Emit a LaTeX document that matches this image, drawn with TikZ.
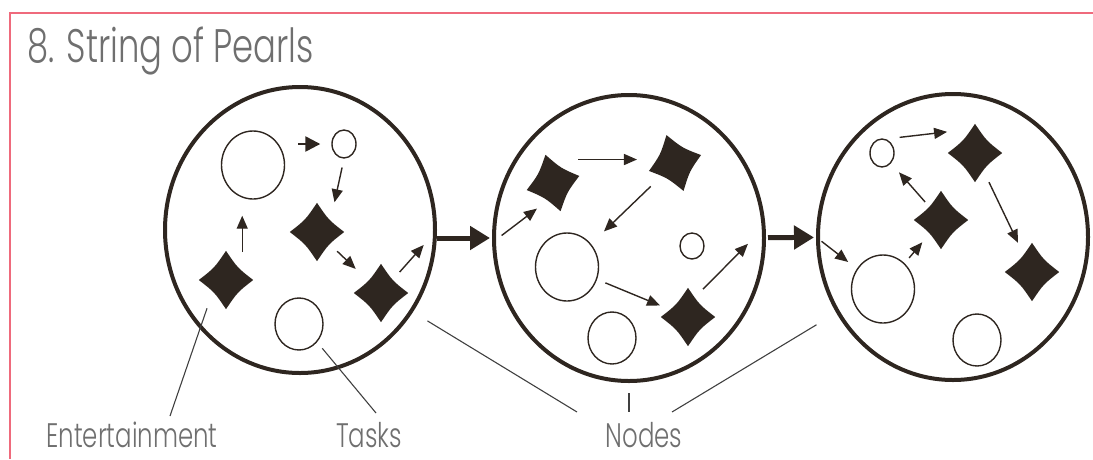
\documentclass[tikz,border=0pt]{standalone}
\usepackage{fontspec}
\IfFontExistsTF{Poppins Light}
  {\setmainfont{Poppins}[UprightFont=* Light, FakeStretch=0.72]}
  {\setmainfont{Poppins}[FakeStretch=0.72]}
\usetikzlibrary{arrows.meta, shapes.geometric, calc}
\definecolor{ink}{HTML}{2E2620}
\definecolor{rule}{HTML}{EF6A7C}
\definecolor{caption}{HTML}{6F6F6F}

\begin{document}
\begin{tikzpicture}[x=1pt, y=-1pt,
    pearl/.style={ellipse, draw=ink, line width=4pt, minimum width=270pt, minimum height=286pt, inner sep=0pt},
    task/.style={ellipse, draw=ink, line width=1.4pt, inner sep=0pt},
    bigtask/.style={task, minimum width=63pt, minimum height=68pt},
    midtask/.style={task, minimum width=48pt, minimum height=52pt},
    smalltask/.style={task, minimum width=24pt, minimum height=28pt},
    joy/.style={diamond, inner sep=0pt, minimum width=54pt, minimum height=58pt},
    arr/.style={-{Triangle[length=13pt, width=11pt]}, line width=1.4pt, draw=ink},
    link/.style={-{Triangle[length=20pt, width=23pt]}, line width=5pt, draw=ink},
    lead/.style={line width=1.1pt, draw=black!75},
    heading/.style={text=caption, font=\fontsize{47}{50}\selectfont, inner sep=0pt, anchor=base west},
    note/.style={text=caption, font=\fontsize{34}{36}\selectfont, inner sep=0pt, anchor=base}
]
\useasboundingbox (0,0) rectangle (1093,459);
\draw[rule, line width=2pt] (1093,13) -- (10,13) -- (10,459);
\node[heading] (ttl) at (27,62) {8. String of Pearls};

% the three pearls on the string
\node[pearl] (C1) at (300,230) {};
\node[pearl] (C2) at (629,238) {};
\node[pearl] (C3) at (953,237) {};
\draw[link, shorten >=2pt] (C1.east |- C2) -- (C2);
\draw[link, shorten <=2pt, shorten >=2pt] (C2) -- (C3);

% first pearl
\node[bigtask] (e1) at (253,165) {};
\node[smalltask] (s1) at (344,144) {};
\node[midtask] (b1) at (299,324) {};
\node[joy] (p1) at (317,232) {};
\node[joy] (p2) at (381,293) {};
\node[joy] (p3) at (226,280) {};
\draw[arr, line width=2.4pt, -{Triangle[length=15pt, width=15pt]}, shorten <=13pt, shorten >=11pt] (e1.east |- s1) -- (s1);
\draw[arr, shorten <=9pt, shorten >=16pt] (s1.south) -- (p1.45);
\draw[arr, shorten <=8pt, shorten >=15pt] (p1) -- (p2);
\draw[arr, shorten <=8pt, shorten >=20pt] (p2) -- (C1.east);
\draw[arr, shorten <=16pt, shorten >=16pt] (p3.36) -- (p3.36 |- e1.south);

% second pearl
\node[joy, rotate=15] (pA) at (553,183) {};
\node[joy, rotate=17] (pB) at (675,163) {};
\node[joy] (pC) at (688,317) {};
\node[bigtask] (e2) at (567,267) {};
\node[smalltask, minimum height=26pt] (s2) at (692,246) {};
\node[midtask] (b2) at (612,338) {};
\draw[arr, shorten <=12pt, shorten >=11pt] (C2.182) -- (pA.234);
\draw[arr, shorten <=25pt, shorten >=12pt] (pA.75) -- (pA.75 -| pB.west);
\draw[arr, shorten <=13pt, shorten >=18pt] (pB) -- (e2);
\draw[arr, shorten <=9pt, shorten >=9pt] (e2) -- (pC);
\draw[arr, shorten <=10pt, shorten >=25pt] (pC.69) -- (C2.5);

% third pearl
\node[smalltask] (s3) at (882,153) {};
\node[joy] (pD) at (975,153) {};
\node[joy] (pF) at (941,220) {};
\node[joy] (pE) at (1032,272) {};
\node[bigtask] (e3) at (883,289) {};
\node[midtask] (b3) at (977,340) {};
\draw[arr, shorten <=7pt, shorten >=11pt] (C3.west) -- (e3);
\draw[arr, shorten <=7pt, shorten >=9pt] (e3) -- (pF);
\draw[arr, shorten <=4pt, shorten >=12pt] (pF) -- (s3);
\draw[arr, shorten <=14pt, shorten >=23pt] (s3.75) -- (pD.102);
\draw[arr, shorten <=11pt, shorten >=11pt] (pD) -- (pE);

% entertainment items: diamonds with hollow sides
\foreach \n in {p1,p2,p3,pA,pB,pC,pD,pE,pF}
  \fill[ink] (\n.north)
    .. controls ($0.42*(\n.north)+0.42*(\n.east)+0.16*(\n.center)$) .. (\n.east)
    .. controls ($0.42*(\n.east)+0.42*(\n.south)+0.16*(\n.center)$) .. (\n.south)
    .. controls ($0.42*(\n.south)+0.42*(\n.west)+0.16*(\n.center)$) .. (\n.west)
    .. controls ($0.42*(\n.west)+0.42*(\n.north)+0.16*(\n.center)$) .. (\n.north) -- cycle;

% captions and their leader lines
\node[note] (ent) at (132,447) {Entertainment};
\node[note] (tsk) at (369,447) {Tasks};
\node[note] (nds) at (644,447) {Nodes};
\coordinate (entTip) at (170,416);
\coordinate (tskTip) at (376,413);
\coordinate (ndsL) at (577,412);
\coordinate (ndsM) at (629,412);
\coordinate (ndsR) at (672,412);
\draw[lead, shorten <=15pt] (p3.225) -- (entTip);
\draw[lead, shorten <=8pt] (b1.-45) -- (tskTip);
\draw[lead, shorten <=17pt] (C1.-36) -- (ndsL);
\draw[lead, shorten <=10pt] (C2.south) -- (ndsM);
\draw[lead, shorten <=23pt] (C3.213) -- (ndsR);
\end{tikzpicture}
\end{document}
